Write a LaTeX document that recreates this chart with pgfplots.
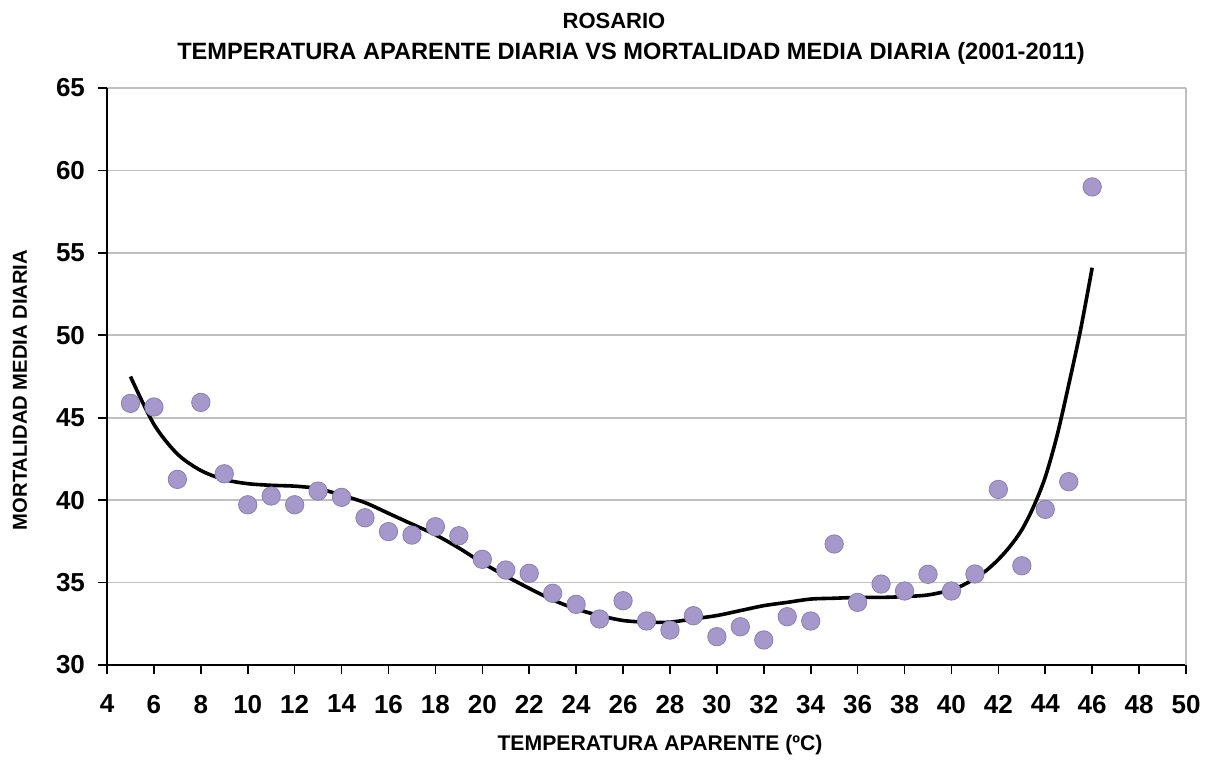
\documentclass[border=0pt]{standalone}
\usepackage{pgfplots}
\pgfplotsset{compat=1.18}
\usepackage{fontspec}
\setmainfont{Liberation Sans}
\definecolor{dotfill}{HTML}{A698CB}
\definecolor{dotedge}{HTML}{8C7FB3}
\definecolor{gridgray}{HTML}{BFBFBF}
\begin{document}
\begin{tikzpicture}
\useasboundingbox (-53.5pt,-48pt) rectangle (550.5pt,332.5pt);
\begin{axis}[
  name=ax, at={(0,0)}, anchor=south west,
  scale only axis, width=539.5pt, height=288.5pt,
  xmin=4, xmax=50, ymin=30, ymax=65,
  xtick={4,6,...,50}, ytick={30,35,...,65},
  axis x line*=bottom, axis y line*=left,
  axis line style={black, line width=1pt, -},
  tick align=outside, major tick length=4.5pt,
  every tick/.style={black, line width=0.8pt},
  ymajorgrids, grid style={gridgray, line width=0.8pt},
  /pgf/number format/assume math mode=true,
  ticklabel style={font=\fontsize{13}{15}\selectfont\bfseries},
  xticklabel style={yshift=-7pt},
  yticklabel style={xshift=-3pt},
  clip=false,
]
\draw[gridgray, line width=0.8pt] (rel axis cs:1,0) -- (rel axis cs:1,1);
\addplot[only marks, mark=*, mark size=4.6pt, mark options={fill=dotfill, draw=dotedge, line width=0.4pt}] coordinates {
(5,45.87) (6,45.65) (7,41.26) (8,45.93) (9,41.6) (10,39.72) (11,40.25) (12,39.72)
(13,40.55) (14,40.17) (15,38.93) (16,38.09) (17,37.88) (18,38.39) (19,37.84)
(20,36.41) (21,35.76) (22,35.56) (23,34.35) (24,33.68) (25,32.79) (26,33.9)
(27,32.67) (28,32.12) (29,32.99) (30,31.72) (31,32.32) (32,31.52) (33,32.93)
(34,32.67) (35,37.34) (36,33.8) (37,34.91) (38,34.49) (39,35.5) (40,34.49)
(41,35.52) (42,40.65) (43,36.02) (44,39.44) (45,41.12) (46,59.0)
};
\addplot[black, line width=1.8pt, smooth] coordinates {
(5,47.5) (6,44.6) (7,42.8) (8,41.8) (9,41.25) (10,41.0) (11,40.9) (12,40.85)
(13,40.7) (14,40.3) (15,39.85) (16,39.2) (17,38.55) (18,37.9) (19,37.1) (20,36.2)
(21,35.4) (22,34.65) (23,33.95) (24,33.4) (25,33.0) (26,32.7) (27,32.6) (28,32.6)
(29,32.8) (30,33.0) (31,33.3) (32,33.6) (33,33.8) (34,34.0) (35,34.05) (36,34.1)
(37,34.1) (38,34.15) (39,34.25) (40,34.55) (40.5,34.85) (41,35.25) (41.5,35.75)
(42,36.4) (42.5,37.2) (43,38.2) (43.5,39.6) (44,41.4) (44.5,43.9) (45,47.0)
(45.5,50.3) (46,54.1)
};
\end{axis}
\node[font=\fontsize{11}{12}\selectfont\bfseries] at (253.5pt,322pt) {ROSARIO};
\node[font=\fontsize{11.8}{13}\selectfont\bfseries] at (262pt,306pt) {TEMPERATURA APARENTE DIARIA VS MORTALIDAD MEDIA DIARIA (2001-2011)};
\node[font=\fontsize{10.6}{12}\selectfont\bfseries] at (276.5pt,-40pt) {TEMPERATURA APARENTE (ºC)};
\node[font=\fontsize{10.1}{11}\selectfont\bfseries, rotate=90] at (-43.5pt,137.5pt) {MORTALIDAD MEDIA DIARIA};
\end{tikzpicture}
\end{document}
